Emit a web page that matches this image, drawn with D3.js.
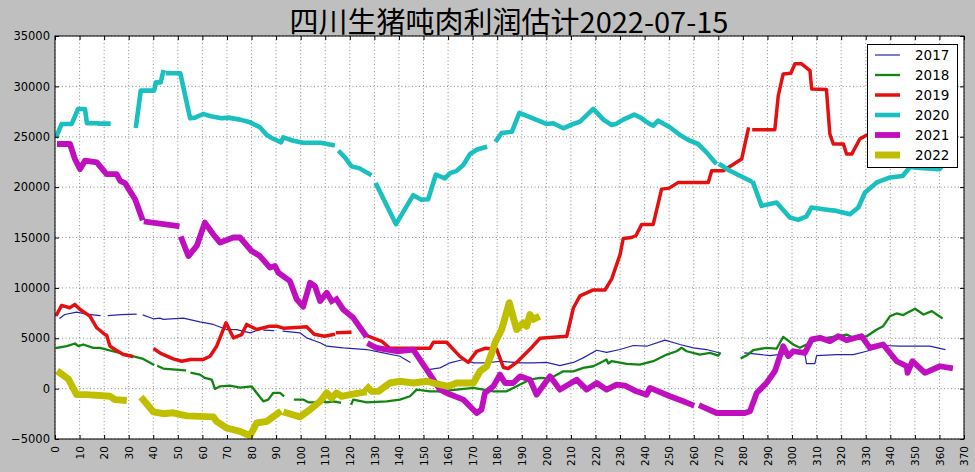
<!DOCTYPE html>
<html><head><meta charset="utf-8">
<script src="https://cdn.jsdelivr.net/npm/d3@7"></script>
<style>
html,body{margin:0;padding:0;background:#bfbfbf;}
svg{display:block;}
</style></head>
<body>
<svg id="chart" width="975" height="472"></svg>
<script>
const titleText = "四川生猪吨肉利润估计2022-07-15";
const years = ["2017","2018","2019","2020","2021","2022"];
const colors = ["#2424b4","#118511","#e41010","#1abfbf","#bf0fbf","#bfbf00"];
const widths = [1.2, 2.3, 3.5, 4.6, 5.8, 6.9];
const xTicks = d3.range(0, 371, 10);
const yTicks = d3.range(-5000, 35001, 5000);

const s2017 = [[2,7000],[4,7360],[8.8,7590],[12.9,7400],[18.3,7250],[19,null],[21.7,7250],[27,7350],[33,7400],[34,null],[35.9,7300],[40,6930],[42.7,7000],[44.1,6870],[52.2,7000],[59,6630],[64.4,6370],[69.9,5870],[74,5850],[79.4,5540],[83.4,5870],[84.2,null],[85,5800],[89,5750],[90,null],[92.9,5700],[99.7,5540],[102.4,5040],[107.9,4550],[110.6,4210],[117.3,4050],[126.9,3880],[133.6,3540],[140.4,3210],[144.5,2620],[148,null],[151.9,1890],[156.7,2060],[160.8,2560],[166.2,2890],[170.3,2560],[175.7,2560],[181.1,2720],[189.3,2560],[194.7,2560],[200.1,2600],[205.5,2290],[211,2600],[215,3050],[220.5,3810],[224.5,3600],[230,3880],[235.4,4280],[240.8,4210],[248.3,4810],[254.4,4380],[259.8,4050],[265.2,3880],[270.6,3540],[275,null],[280.8,3540],[291,3280],[300.5,3540],[305.2,3450],[305.9,2490],[309.3,2490],[310,3280],[318.1,3380],[324.9,3380],[330.4,3710],[337.1,4280],[343.9,4210],[349.3,4210],[356.1,4210],[362.2,3880]];

const s2018 = [[0.7,4050],[4.8,4210],[8.1,4480],[9.5,4210],[11.5,4380],[15.6,4050],[18.3,4050],[25.1,3610],[31.9,3210],[35.9,2950],[40,2390],[41,null],[42,2220],[44.1,1990],[52.9,1820],[54,null],[55.6,1560],[59,1390],[61,1060],[63.8,890],[65.1,-30],[67.2,230],[71.2,300],[75.3,100],[80,230],[82.1,-430],[84.8,-1260],[86.8,-1090],[88.8,-430],[91.6,-430],[92.9,-700],[95,null],[97.7,-1090],[101,-1090],[103.1,-1360],[105.8,-1360],[107.9,-1200],[110.6,-1360],[113.3,-1260],[116,-1400],[118,null],[120.7,-1490],[121.4,-1090],[126.9,-1360],[135,-1260],[140.4,-1090],[144.5,-760],[147.2,-100],[152.6,-270],[156.7,-270],[163.5,-100],[170.3,70],[178.4,-270],[183.8,-270],[189.3,400],[193.3,890],[197.4,1060],[201.5,1000],[206.9,1720],[211,1720],[215,2060],[219.1,2220],[223.2,2720],[224.5,2890],[225.2,2490],[226.6,2720],[232.7,2450],[238,2390],[243.5,2720],[249,3380],[253,3710],[255.1,4050],[257.1,3710],[262.5,3380],[266.6,3540],[270,3280],[270.6,3500],[275,null],[279.5,3050],[281.5,3280],[284.2,3810],[289.6,4050],[293.7,3960],[296.4,5140],[300.5,4380],[303.2,4050],[305.9,4380],[310,4880],[316.8,5140],[322.2,5370],[324.9,5040],[330.4,5200],[334.5,5870],[337.1,6200],[339.9,7200],[342.6,7460],[345.3,7300],[346.7,7500],[350.1,7930],[353.5,7360],[356.9,7690],[360.9,7030]];

const s2019 = [[0.7,7360],[2.7,8260],[6,8030],[8.1,8360],[10.2,7860],[14.2,7200],[17,6040],[20.3,5370],[21,5300],[22.4,4210],[24.4,3880],[27.8,3380],[31.2,3210],[35,null],[40.7,3880],[43,3500],[48.1,2950],[51.6,2720],[55,2890],[60.4,2900],[63.1,3210],[65.8,4210],[69.6,6530],[72.6,5040],[76,5370],[78,6370],[82.1,5870],[87.5,6200],[90.2,6200],[92.9,6000],[99.7,6100],[102.4,6150],[105.5,5400],[109.7,5200],[113.3,5370],[114,null],[115,5550],[120,5600],[122,null],[126.9,5270],[133,4700],[136.3,4000],[152.6,4000],[154,4600],[159.4,4600],[164.8,3200],[168.2,2600],[171.6,3700],[175,4000],[179.8,3900],[182.5,2100],[184.5,2000],[187.9,2600],[193.3,3900],[197.4,5000],[208.3,5200],[211,8000],[213.7,9200],[219.1,9800],[223.9,9800],[226.6,10900],[230,13300],[231.3,14900],[234.7,15000],[236.5,15200],[238.8,16300],[243.5,16300],[246.9,19800],[250,19900],[253.7,20470],[265.9,20470],[267.3,21620],[272,21620],[279.5,22790],[282.2,25770],[283,null],[284.5,25700],[293,25700],[294.4,29080],[296.4,31240],[299.5,31300],[301.2,32240],[303.9,32240],[307.3,31570],[308,29750],[314,29700],[315.4,25270],[316.8,24280],[320.9,24280],[322.2,23280],[324.3,23280],[327.6,24780],[330.4,25170],[335,25600]];

const s2020 = [[0.7,25100],[2.7,26270],[6.8,26270],[9.4,27760],[12.2,27760],[13,26340],[17,26340],[17.8,null],[18.3,26300],[21.7,26300],[25,null],[33,26100],[34.9,29580],[40.3,29580],[41.1,30400],[43,30400],[44,31400],[45,null],[46,31300],[51,31300],[55,26830],[57,26900],[60.3,27260],[64,27000],[67.8,26830],[70.5,26900],[75.3,26700],[79.4,26430],[83.4,25940],[86.2,25170],[88,24900],[92,24450],[92.9,24940],[97,24600],[101,24400],[108,24400],[113,24180],[114.6,null],[116,23450],[118,22950],[120.7,22060],[124,21860],[128,21290],[129.5,null],[130.9,20200],[138.8,16320],[145.8,19200],[149.2,18740],[151.9,18800],[155,21230],[158.7,20860],[160.8,21390],[163.5,21620],[166.2,22190],[168.9,23280],[171.6,23710],[175,23950],[177,null],[179.8,24680],[181.8,25370],[186,25500],[189,27360],[193.3,26940],[200,26270],[202.8,26340],[206.9,25840],[211,26270],[213.7,26500],[219.1,27760],[223.2,26700],[226.6,26170],[228.6,26300],[231.3,26700],[235.8,27200],[238,26940],[242,26270],[243.5,26100],[245.5,26600],[250.3,25940],[254.4,25170],[258.4,24610],[261.8,24280],[265.2,23450],[268.6,22460],[270,null],[271,22200],[274.7,21620],[282.9,20630],[283.6,null],[284.2,20400],[287.6,18140],[293.7,18470],[299.1,16980],[302.5,16750],[305.9,17100],[307.9,17980],[312.7,17810],[318.1,17640],[323.6,17310],[327,17980],[329.7,19470],[334.5,20470],[339.9,20960],[345,21100],[348,22000],[352,21900],[360,21790],[363,22600]];

const s2021 = [[2,24280],[6.1,24280],[8.1,22790],[10.2,21790],[12.2,22620],[17,22460],[21,21290],[25.1,21290],[26.5,20630],[28.5,20400],[32.6,18800],[35.3,16980],[36.3,null],[37.3,16550],[49.5,16150],[50.5,null],[51.6,14830],[54.3,13160],[57.7,14160],[61,16480],[64.4,15320],[67.2,14500],[72.6,15000],[75.3,15000],[80,13660],[83.4,13160],[87.5,12010],[89.5,12180],[90.9,11510],[95.6,10680],[98.4,8860],[101,8130],[103.8,10510],[105.8,10180],[107.9,8690],[110.6,9520],[112.6,8690],[113.6,null],[114.6,8860],[117.3,7860],[121.4,7030],[126.2,5370],[127.2,null],[128.2,4380],[130.9,4050],[139.1,3710],[145.8,3880],[151.3,1890],[156.7,-100],[159.4,-430],[166.2,-1090],[171.6,-2420],[173.6,-2090],[175,-430],[178.4,230],[181.1,1390],[183.2,560],[186.5,560],[189.3,1220],[193.3,890],[196,-600],[201.5,1220],[205.5,-100],[212.3,890],[216.4,-100],[220.5,560],[224.5,-100],[228.6,400],[232,300],[236.7,-270],[240.8,-600],[242.2,70],[250.3,-760],[255.7,-1260],[259.1,-1590],[261,null],[263.2,-1760],[269.3,-2420],[280.8,-2420],[282.9,-2250],[285.6,-430],[289.6,560],[293,1720],[296.4,4210],[298.5,3210],[300.5,3710],[305.2,3540],[308,4880],[311.4,5040],[315.4,4710],[318.8,5200],[322.2,4810],[328.3,5200],[331.7,4050],[337.1,4380],[342.6,2720],[346.7,2220],[347,1560],[349,2720],[354.1,1560],[360.2,2220],[364.3,2060]];

const s2022 = [[2,1560],[5.4,960],[8.8,-600],[12.9,-600],[22.4,-760],[24.4,-1090],[27.8,-1150],[30,null],[35.9,-1090],[40,-2300],[44.1,-2490],[48.1,-2400],[53.6,-2700],[59,-2750],[64.4,-2800],[65.8,-3250],[69.9,-3910],[75.3,-4250],[79.4,-4680],[82.1,-3410],[86.2,-3250],[90.9,-2420],[92.5,null],[94.3,-2420],[99.7,-2800],[103.8,-2090],[107.9,-1260],[110.6,-430],[112.6,-930],[114.6,-430],[116.7,-760],[120.1,-600],[125.5,-380],[126.5,null],[127.5,70],[128.9,-270],[131.6,-270],[136.3,560],[140.4,730],[145.8,560],[151.3,730],[154,560],[156.7,400],[160.1,230],[163.5,560],[170.3,560],[173,1720],[175.7,2220],[177.8,3540],[179.1,4550],[181.8,5870],[184.9,8530],[187.9,5870],[190.6,6530],[192,6200],[193.3,7360],[194.7,6870],[196,7030]];

const series = [s2017, s2018, s2019, s2020, s2021, s2022];

const svg = d3.select("#chart");
const L = 55, R = 964, T = 36, B = 439;
const x = d3.scaleLinear().domain([0, 370]).range([L, R]);
const y = d3.scaleLinear().domain([-5000, 35000]).range([B, T]);

svg.append("rect").attr("width", 975).attr("height", 472).attr("fill", "#bfbfbf");
svg.append("rect").attr("x", L).attr("y", T).attr("width", R - L).attr("height", B - T).attr("fill", "#fff");

// grid
const grid = svg.append("g").attr("stroke", "#444").attr("stroke-width", 0.6).attr("stroke-dasharray", "1,2.5");
grid.selectAll(".gx").data(xTicks).join("line")
  .attr("x1", d => x(d)).attr("x2", d => x(d)).attr("y1", T).attr("y2", B);
grid.selectAll(".gy").data(yTicks).join("line")
  .attr("y1", d => y(d)).attr("y2", d => y(d)).attr("x1", L).attr("x2", R);

svg.append("defs").append("clipPath").attr("id", "clip")
  .append("rect").attr("x", L).attr("y", T).attr("width", R - L).attr("height", B - T);

const line = d3.line().defined(p => p[1] !== null).x(p => x(p[0])).y(p => y(p[1]));
const lines = svg.append("g").attr("clip-path", "url(#clip)");
series.forEach((s, i) => {
  lines.append("path").datum(s).attr("d", line)
    .attr("fill", "none").attr("stroke", colors[i]).attr("stroke-width", widths[i])
    .attr("stroke-linejoin", "round").attr("stroke-linecap", "square");
});

// axes
const font = "'DejaVu Sans', sans-serif";
const ax = svg.append("g").attr("transform", `translate(0,${B})`)
  .call(d3.axisBottom(x).tickValues(xTicks).tickSizeInner(-4).tickSizeOuter(0).tickPadding(6));
ax.select(".domain").remove();
ax.selectAll("text").attr("font-family", font).attr("font-size", 10.5).attr("fill", "#000")
  .attr("transform", "rotate(-90)").attr("text-anchor", "end")
  .attr("x", -7).attr("y", 0).attr("dy", "0.35em");
const axT = svg.append("g").attr("transform", `translate(0,${T})`)
  .call(d3.axisTop(x).tickValues(xTicks).tickSizeInner(-4).tickSizeOuter(0).tickFormat(""));
axT.select(".domain").remove();
const ay = svg.append("g").attr("transform", `translate(${L},0)`)
  .call(d3.axisLeft(y).tickValues(yTicks).tickSizeInner(-4).tickSizeOuter(0).tickPadding(5).tickFormat(d3.format("d")));
ay.select(".domain").remove();
ay.selectAll("text").attr("font-family", font).attr("font-size", 11.5).attr("fill", "#000")
  .text(d => d < 0 ? "\u2212" + Math.abs(d) : d);
const ayR = svg.append("g").attr("transform", `translate(${R},0)`)
  .call(d3.axisRight(y).tickValues(yTicks).tickSizeInner(-4).tickSizeOuter(0).tickFormat(""));
ayR.select(".domain").remove();

svg.append("rect").attr("x", L).attr("y", T).attr("width", R - L).attr("height", B - T)
  .attr("fill", "none").attr("stroke", "#000").attr("stroke-width", 1);

// legend
const lg = svg.append("g");
lg.append("rect").attr("x", 867.5).attr("y", 44.5).attr("width", 90).attr("height", 123)
  .attr("fill", "#fff").attr("stroke", "#000").attr("stroke-width", 1);
years.forEach((yr, i) => {
  const yy = 55 + i * 20;
  lg.append("line").attr("x1", 875).attr("x2", 900).attr("y1", yy).attr("y2", yy)
    .attr("stroke", colors[i]).attr("stroke-width", widths[i]);
  lg.append("text").attr("x", 915).attr("y", yy).attr("dy", "0.36em")
    .attr("font-family", font).attr("font-size", 13.5).text(yr);
});

// title
svg.append("text").attr("x", 509).attr("y", 33).attr("text-anchor", "middle")
  .attr("font-family", "'Noto Sans CJK SC', sans-serif").attr("font-size", 29).text(titleText);
</script>
</body></html>
